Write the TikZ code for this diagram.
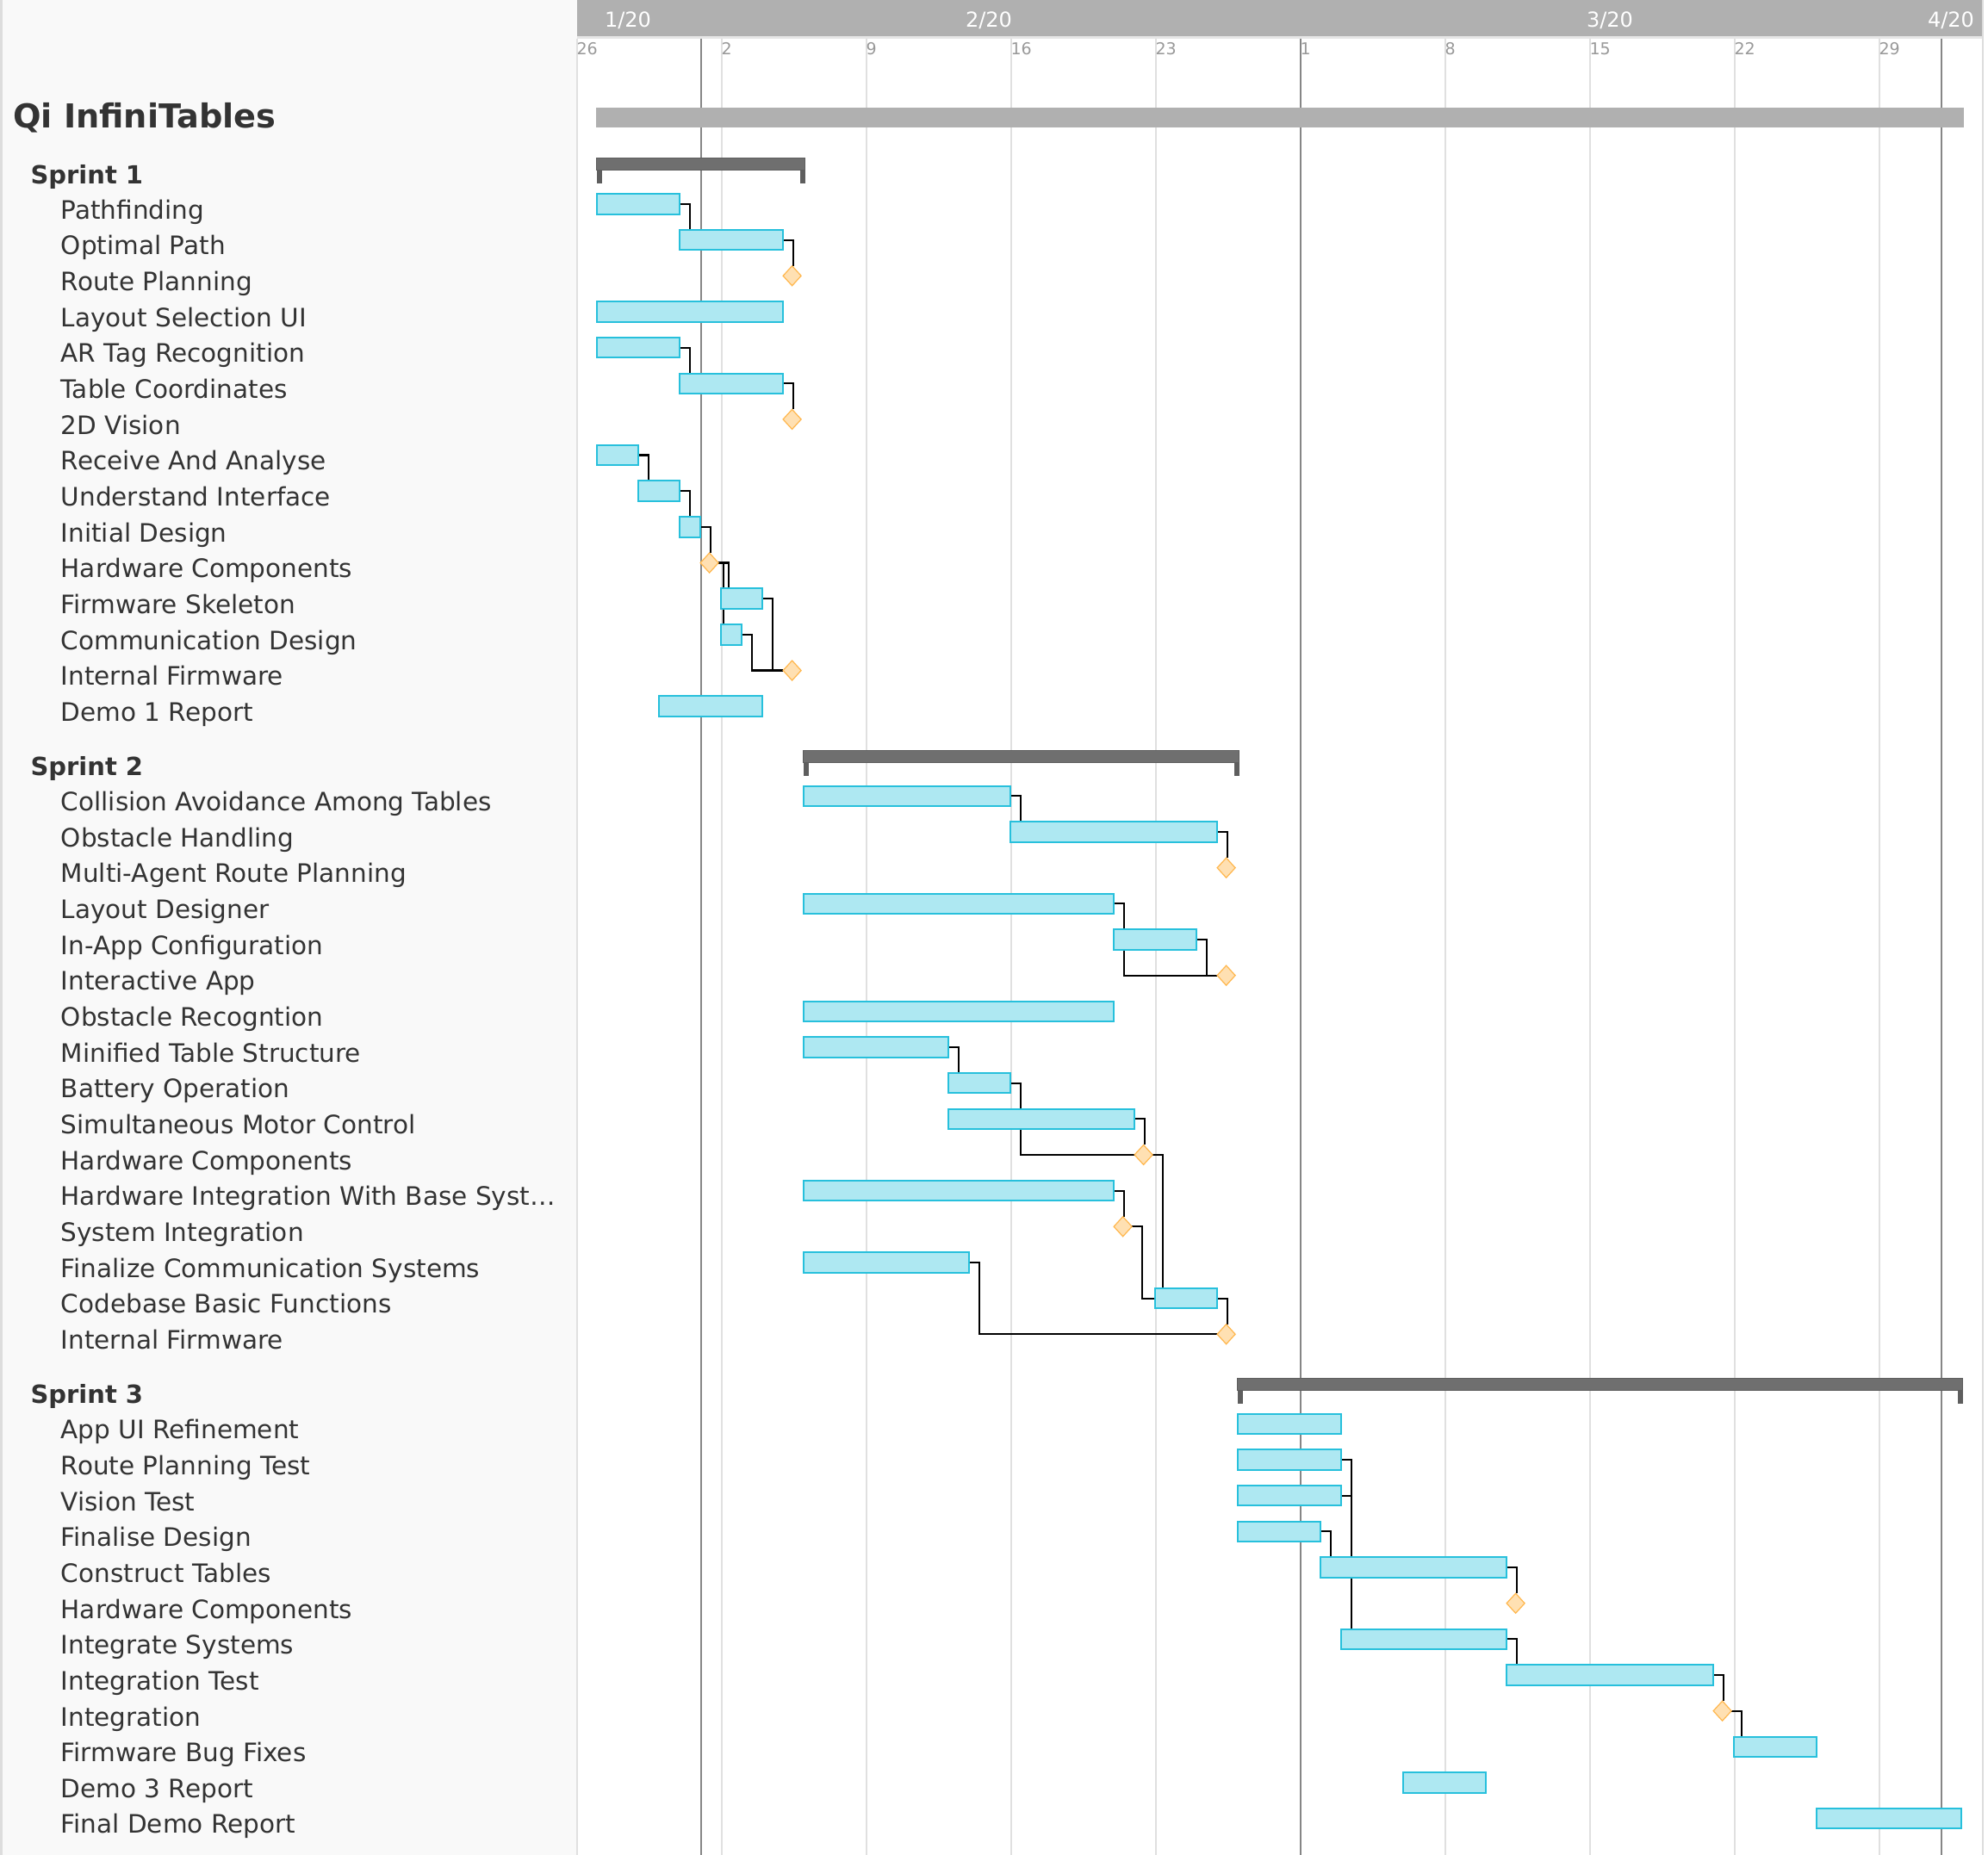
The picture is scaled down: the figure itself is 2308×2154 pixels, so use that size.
\documentclass[tikz,border=0pt]{standalone}
\usepackage{fontspec}
\setmainfont{DejaVu Sans}
\usetikzlibrary{shapes.geometric}

\pgfdeclarelayer{grid}
\pgfdeclarelayer{links}
\pgfsetlayers{grid,links,main}

\definecolor{panel}{HTML}{F9F9F9}
\definecolor{panelline}{HTML}{DDDDDD}
\definecolor{headgray}{HTML}{B0B0B0}
\definecolor{headline}{HTML}{E6E6E6}
\definecolor{weekline}{HTML}{E0E0E0}
\definecolor{monthline}{HTML}{868686}
\definecolor{barfill}{HTML}{AEE8F2}
\definecolor{barline}{HTML}{27C0DC}
\definecolor{msfill}{HTML}{FFE0B2}
\definecolor{msline}{HTML}{FFB74D}
\definecolor{sprintfill}{HTML}{6F6F6F}
\definecolor{sprintline}{HTML}{5E5E5E}
\definecolor{labeltext}{HTML}{333333}
\definecolor{daytext}{HTML}{999999}

% x position of a day (0 = Jan 26), y position of a row
\newcommand\dayx[1]{669.6+24*(#1)}
\newcommand\rowy[1]{195.3+41.66*(#1)}

\tikzset{
  taskbox/.style={rectangle, draw=barline, fill=barfill, line width=2pt,
    inner sep=0pt, outer sep=0pt, minimum height=23.5pt},
  msbox/.style={diamond, draw=msline, fill=msfill, line width=1.2pt,
    inner sep=0pt, outer sep=0pt, minimum width=21pt, minimum height=23pt},
  sprintbox/.style={rectangle, draw=sprintline, fill=sprintfill, line width=1pt,
    inner sep=0pt, outer sep=0pt, minimum height=14pt},
  projbox/.style={rectangle, fill=headgray, inner sep=0pt, outer sep=0pt,
    minimum height=23.3pt},
  link/.style={draw=black, line width=2.2pt},
  tasktext/.style={anchor=base west, inner sep=0pt, outer sep=0pt, text=labeltext,
    font=\fontsize{29.5}{34}\selectfont},
  sprinttext/.style={anchor=base west, inner sep=0pt, outer sep=0pt, text=labeltext,
    font=\bfseries\fontsize{29}{34}\selectfont},
  titletext/.style={anchor=base west, inner sep=0pt, outer sep=0pt, text=labeltext,
    font=\bfseries\fontsize{38.3}{44}\selectfont},
  daylabel/.style={anchor=base west, inner sep=0pt, outer sep=0pt, text=daytext,
    font=\fontsize{19}{22}\selectfont},
  monthlabel/.style={inner sep=0pt, outer sep=0pt, text=white,
    font=\fontsize{24}{28}\selectfont},
}

% name, row, start day, end day, label
\newcommand\gtask[5]{%
  \node[taskbox, minimum width={24*(#4-#3)}, anchor=west] (#1) at ({\dayx{#3}-0.5},{\rowy{#2}}) {};
  \node[tasktext] (#1l) at (70.8,{\rowy{#2}+17.3}) {#5};
}
% name, row, day, label
\newcommand\gmile[4]{%
  \node[msbox] (#1) at ({\dayx{#3}+10},{\rowy{#2}}) {};
  \node[tasktext] (#1l) at (70.8,{\rowy{#2}+17.3}) {#4};
}
% name, row, start day, end day, label
\newcommand\gsprint[5]{%
  \node[sprintbox, minimum width={24*(#4-#3)+2}, anchor=north west] (#1) at ({\dayx{#3}-1},{\rowy{#2}-11.5}) {};
  \fill[sprintline] (#1.south west) rectangle ++(6,15.5);
  \fill[sprintline] (#1.south east) rectangle ++(-6,15.5);
  \node[sprinttext] (#1l) at (35.5,{\rowy{#2}+18}) {#5};
}
% finish-to-start links: drop onto the top, or run in from the left
\newcommand\linktop[3][12]{\draw[link] (#2.east) -- ++(#1,0) coordinate (lk) -- (lk |- #3.north);}
\newcommand\linkmid[2]{\draw[link] (#1.east) -- ++(12,0) |- (#2.west);}

\begin{document}
\begin{tikzpicture}[x=1pt, y=-1pt]
\useasboundingbox (0,0) rectangle (2308,2154);

\begin{pgfonlayer}{grid}
  \fill[white] (0,0) rectangle (2308,2154);
  \fill[panel] (0,0) rectangle (670,2154);
  \draw[panelline, line width=2.5pt] (1.25,0) -- (1.25,2154);
  \fill[headgray] (670,0) rectangle (2302,41.7);
  \draw[headline, line width=3pt] (670,43.2) -- (2302,43.2);
  \foreach \d/\t in {0/26,7/2,14/9,21/16,28/23,42/8,49/15,56/22,63/29} {
    \draw[weekline, line width=2pt] ({\dayx{\d}},44.7) -- ({\dayx{\d}},2154);
    \node[daylabel] (day\d) at ({\dayx{\d}},63.3) {\t};
  }
  \foreach \d in {6,35,66} {
    \draw[monthline, line width=2pt] ({\dayx{\d}},44.7) -- ({\dayx{\d}},2154);
  }
  \node[daylabel] (day35) at ({\dayx{35}},63.3) {1};
  \draw[panelline, line width=2pt] (2302,0) -- (2302,2154);
  \node[monthlabel, anchor=base west] (m1) at (702,31.7) {1/20};
  \node[monthlabel, anchor=base west] (m2) at (1121,31.7) {2/20};
  \node[monthlabel, anchor=base west] (m3) at (1842,31.7) {3/20};
  \node[monthlabel, anchor=base east] (m4) at (2292,31.7) {4/20};
\end{pgfonlayer}

% project
\node[projbox, minimum width=1588, anchor=west] (proj) at ({\dayx{1}-2},136.7) {};
\node[titletext] (projl) at (15,148.5) {Qi InfiniTables};

% Sprint 1
\gsprint{sa}{0}{1}{11}{Sprint 1}
\gtask{a1}{1}{1}{5}{Pathfinding}
\gtask{a2}{2}{5}{10}{Optimal Path}
\gmile{a3}{3}{10}{Route Planning}
\gtask{a4}{4}{1}{10}{Layout Selection UI}
\gtask{a5}{5}{1}{5}{AR Tag Recognition}
\gtask{a6}{6}{5}{10}{Table Coordinates}
\gmile{a7}{7}{10}{2D Vision}
\gtask{a8}{8}{1}{3}{Receive And Analyse}
\gtask{a9}{9}{3}{5}{Understand Interface}
\gtask{a10}{10}{5}{6}{Initial Design}
\gmile{a11}{11}{6}{Hardware Components}
\gtask{a12}{12}{7}{9}{Firmware Skeleton}
\gtask{a13}{13}{7}{8}{Communication Design}
\gmile{a14}{14}{10}{Internal Firmware}
\gtask{a15}{15}{4}{9}{Demo 1 Report}

% Sprint 2
\gsprint{sb}{16.5}{11}{32}{Sprint 2}
\gtask{b1}{17.5}{11}{21}{Collision Avoidance Among Tables}
\gtask{b2}{18.5}{21}{31}{Obstacle Handling}
\gmile{b3}{19.5}{31}{Multi-Agent Route Planning}
\gtask{b4}{20.5}{11}{26}{Layout Designer}
\gtask{b5}{21.5}{26}{30}{In-App Configuration}
\gmile{b6}{22.5}{31}{Interactive App}
\gtask{b7}{23.5}{11}{26}{Obstacle Recogntion}
\gtask{b8}{24.5}{11}{18}{Minified Table Structure}
\gtask{b9}{25.5}{18}{21}{Battery Operation}
\gtask{b10}{26.5}{18}{27}{Simultaneous Motor Control}
\gmile{b11}{27.5}{27}{Hardware Components}
\gtask{b12}{28.5}{11}{26}{Hardware Integration With Base Syst…}
\gmile{b13}{29.5}{26}{System Integration}
\gtask{b14}{30.5}{11}{19}{Finalize Communication Systems}
\gtask{b15}{31.5}{28}{31}{Codebase Basic Functions}
\gmile{b16}{32.5}{31}{Internal Firmware}

% Sprint 3
\gsprint{sc}{34}{32}{67}{Sprint 3}
\gtask{c1}{35}{32}{37}{App UI Refinement}
\gtask{c2}{36}{32}{37}{Route Planning Test}
\gtask{c3}{37}{32}{37}{Vision Test}
\gtask{c4}{38}{32}{36}{Finalise Design}
\gtask{c5}{39}{36}{45}{Construct Tables}
\gmile{c6}{40}{45}{Hardware Components}
\gtask{c7}{41}{37}{45}{Integrate Systems}
\gtask{c8}{42}{45}{55}{Integration Test}
\gmile{c9}{43}{55}{Integration}
\gtask{c10}{44}{56}{60}{Firmware Bug Fixes}
\gtask{c11}{45}{40}{44}{Demo 3 Report}
\gtask{c12}{46}{60}{67}{Final Demo Report}

\begin{pgfonlayer}{links}
  % Sprint 1 dependencies
  \linktop{a1}{a2}
  \linktop{a2}{a3}
  \linktop{a5}{a6}
  \linktop{a6}{a7}
  \linktop{a8}{a9}
  \linktop{a9}{a10}
  \linktop{a10}{a11}
  \linktop{a11}{a12}
  \linktop[6]{a11}{a13}
  \linkmid{a12}{a14}
  \linkmid{a13}{a14}
  % Sprint 2 dependencies
  \linktop{b1}{b2}
  \linktop{b2}{b3}
  \linktop{b4}{b5}
  \linkmid{b4}{b6}
  \linkmid{b5}{b6}
  \linktop{b8}{b9}
  \linkmid{b9}{b11}
  \linktop{b10}{b11}
  \linktop{b11}{b15}
  \linktop{b12}{b13}
  \linkmid{b13}{b15}
  \linkmid{b14}{b16}
  \linktop{b15}{b16}
  % Sprint 3 dependencies
  \linktop{c2}{c7}
  \linktop{c3}{c7}
  \linktop{c4}{c5}
  \linktop{c5}{c6}
  \linktop{c7}{c8}
  \linktop{c8}{c9}
  \linktop{c9}{c10}
\end{pgfonlayer}
\end{tikzpicture}
\end{document}
